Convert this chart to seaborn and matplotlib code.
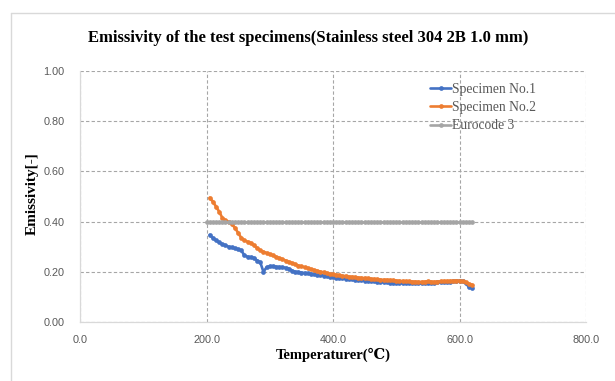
import matplotlib
matplotlib.use("Agg")
import matplotlib.pyplot as plt
from matplotlib.lines import Line2D
from matplotlib.ticker import MultipleLocator, FormatStrFormatter
import seaborn as sns
import pandas as pd

# ---- data ----
temps = [205, 210, 215, 220, 225, 230, 235, 240, 245, 250,
         255, 260, 265, 270, 275, 280, 285, 290, 295, 300,
         305, 310, 315, 320, 325, 330, 335, 340, 345, 350,
         355, 360, 365, 370, 375, 380, 385, 390, 395, 400,
         405, 410, 415, 420, 425, 430, 435, 440, 445, 450,
         455, 460, 465, 470, 475, 480, 485, 490, 495, 500,
         505, 510, 515, 520, 525, 530, 535, 540, 545, 550,
         555, 560, 565, 570, 575, 580, 585, 590, 595, 600,
         605, 610, 615, 620]

spec1 = [0.347, 0.335, 0.325, 0.318, 0.310, 0.305, 0.300, 0.297, 0.293, 0.290,
         0.285, 0.265, 0.260, 0.258, 0.255, 0.245, 0.238, 0.200, 0.218, 0.222,
         0.222, 0.220, 0.219, 0.218, 0.216, 0.213, 0.205, 0.200, 0.199, 0.197,
         0.195, 0.194, 0.192, 0.190, 0.188, 0.187, 0.185, 0.183, 0.181, 0.179,
         0.177, 0.175, 0.174, 0.172, 0.171, 0.170, 0.168, 0.167, 0.166, 0.165,
         0.164, 0.163, 0.162, 0.161, 0.160, 0.159, 0.158, 0.157, 0.157, 0.156,
         0.155, 0.155, 0.154, 0.154, 0.155, 0.155, 0.155, 0.154, 0.155, 0.156,
         0.157, 0.157, 0.158, 0.158, 0.159, 0.160, 0.161, 0.162, 0.163, 0.165,
         0.163, 0.155, 0.138, 0.137]

spec2 = [0.495, 0.480, 0.460, 0.440, 0.415, 0.405, 0.400, 0.390, 0.375, 0.355,
         0.335, 0.325, 0.320, 0.315, 0.305, 0.295, 0.285, 0.280, 0.275, 0.270,
         0.265, 0.260, 0.255, 0.250, 0.245, 0.240, 0.235, 0.230, 0.225, 0.222,
         0.218, 0.215, 0.210, 0.207, 0.204, 0.201, 0.198, 0.195, 0.192, 0.190,
         0.188, 0.186, 0.184, 0.183, 0.181, 0.180, 0.178, 0.177, 0.176, 0.175,
         0.174, 0.172, 0.171, 0.170, 0.169, 0.168, 0.168, 0.167, 0.166, 0.165,
         0.164, 0.163, 0.162, 0.162, 0.161, 0.161, 0.160, 0.160, 0.161, 0.162,
         0.161, 0.160, 0.161, 0.162, 0.163, 0.163, 0.164, 0.164, 0.165, 0.165,
         0.162, 0.158, 0.152, 0.148]

euro_temps = [200] + temps
euro = [0.40, 0.40, 0.40, 0.40, 0.40, 0.40, 0.40, 0.40, 0.40, 0.40,
        0.40, 0.40, 0.40, 0.40, 0.40, 0.40, 0.40, 0.40, 0.40, 0.40,
        0.40, 0.40, 0.40, 0.40, 0.40, 0.40, 0.40, 0.40, 0.40, 0.40,
        0.40, 0.40, 0.40, 0.40, 0.40, 0.40, 0.40, 0.40, 0.40, 0.40,
        0.40, 0.40, 0.40, 0.40, 0.40, 0.40, 0.40, 0.40, 0.40, 0.40,
        0.40, 0.40, 0.40, 0.40, 0.40, 0.40, 0.40, 0.40, 0.40, 0.40,
        0.40, 0.40, 0.40, 0.40, 0.40, 0.40, 0.40, 0.40, 0.40, 0.40,
        0.40, 0.40, 0.40, 0.40, 0.40, 0.40, 0.40, 0.40, 0.40, 0.40,
        0.40, 0.40, 0.40, 0.40, 0.40]

series_names = ["Specimen No.1", "Specimen No.2", "Eurocode 3"]
colors = ["#4472C4", "#ED7D31", "#A5A5A5"]

title = "Emissivity of the test specimens(Stainless steel 304 2B 1.0 mm)"
xlabel = "Temperaturer(\u2103)"
ylabel = "Emissivity[-]"

# ---- figure ----
sns.set_theme(style="white")
plt.rcParams["font.family"] = ["Liberation Serif", "DejaVu Serif"]

fig = plt.figure(figsize=(6.15, 3.81), dpi=100)
ax = fig.add_axes([80 / 615, 59 / 381, 506 / 615, 251 / 381])

df = pd.concat([
    pd.DataFrame({"T": temps, "E": spec1, "S": series_names[0]}),
    pd.DataFrame({"T": temps, "E": spec2, "S": series_names[1]}),
    pd.DataFrame({"T": euro_temps, "E": euro, "S": series_names[2]}),
])

for name, col in zip(series_names, colors):
    sns.lineplot(data=df[df["S"] == name], x="T", y="E", ax=ax, color=col,
                 marker="o", markersize=3.4, markeredgewidth=0, linewidth=1.9,
                 label=name, sort=False, errorbar=None)

ax.set_xlim(0, 800)
ax.set_ylim(0, 1.0)
ax.xaxis.set_major_locator(MultipleLocator(200))
ax.xaxis.set_minor_locator(MultipleLocator(40))
ax.yaxis.set_major_locator(MultipleLocator(0.2))
ax.yaxis.set_minor_locator(MultipleLocator(0.04))
ax.xaxis.set_major_formatter(FormatStrFormatter("%.1f"))
ax.yaxis.set_major_formatter(FormatStrFormatter("%.2f"))

ax.grid(True, which="major", linestyle=(0, (3, 2)), color="#A6A6A6", linewidth=0.8)
for s in ["top", "right"]:
    ax.spines[s].set_visible(False)
for s in ["left", "bottom"]:
    ax.spines[s].set_color("#D9D9D9")
    ax.spines[s].set_linewidth(0.9)

ax.tick_params(axis="both", which="major", length=0, labelsize=7.8,
               labelcolor="#595959")
ax.tick_params(axis="x", which="major", pad=9.5)
ax.tick_params(axis="y", which="major", pad=11)
ax.tick_params(axis="both", which="minor", direction="in", length=3,
               color="#D9D9D9", width=0.8)
for lab in ax.get_xticklabels() + ax.get_yticklabels():
    lab.set_family(["Liberation Sans", "DejaVu Sans"])

ax.set_xlabel("")
ax.set_ylabel("")
fig.text(333 / 615, 1 - 355 / 381, xlabel, ha="center", va="center",
         fontsize=10.5, fontweight="bold", color="#000000",
         family=["Liberation Serif", "DejaVu Serif"])
fig.text(32 / 615, 1 - 194 / 381, ylabel, ha="center", va="center",
         rotation=90, fontsize=11, fontweight="bold", color="#000000")
fig.text(308 / 615, 1 - 38 / 381, title, ha="center", va="center",
         fontsize=12, fontweight="bold", color="#000000")

leg = ax.legend(loc="upper left", bbox_to_anchor=(430 / 615, 1 - 83 / 381),
                bbox_transform=fig.transFigure, frameon=False, fontsize=9.8,
                handlelength=1.55, handletextpad=0.05, labelspacing=0.38,
                borderpad=0, borderaxespad=0)
for t in leg.get_texts():
    t.set_color("#595959")

# chart frame (left and top edges visible)
fig.add_artist(Line2D([11 / 615, 11 / 615], [0, 1 - 13 / 381],
                      transform=fig.transFigure, color="#D9D9D9", linewidth=1))
fig.add_artist(Line2D([11 / 615, 1], [1 - 13 / 381, 1 - 13 / 381],
                      transform=fig.transFigure, color="#D9D9D9", linewidth=1))

fig.savefig("out.png", dpi=100)
